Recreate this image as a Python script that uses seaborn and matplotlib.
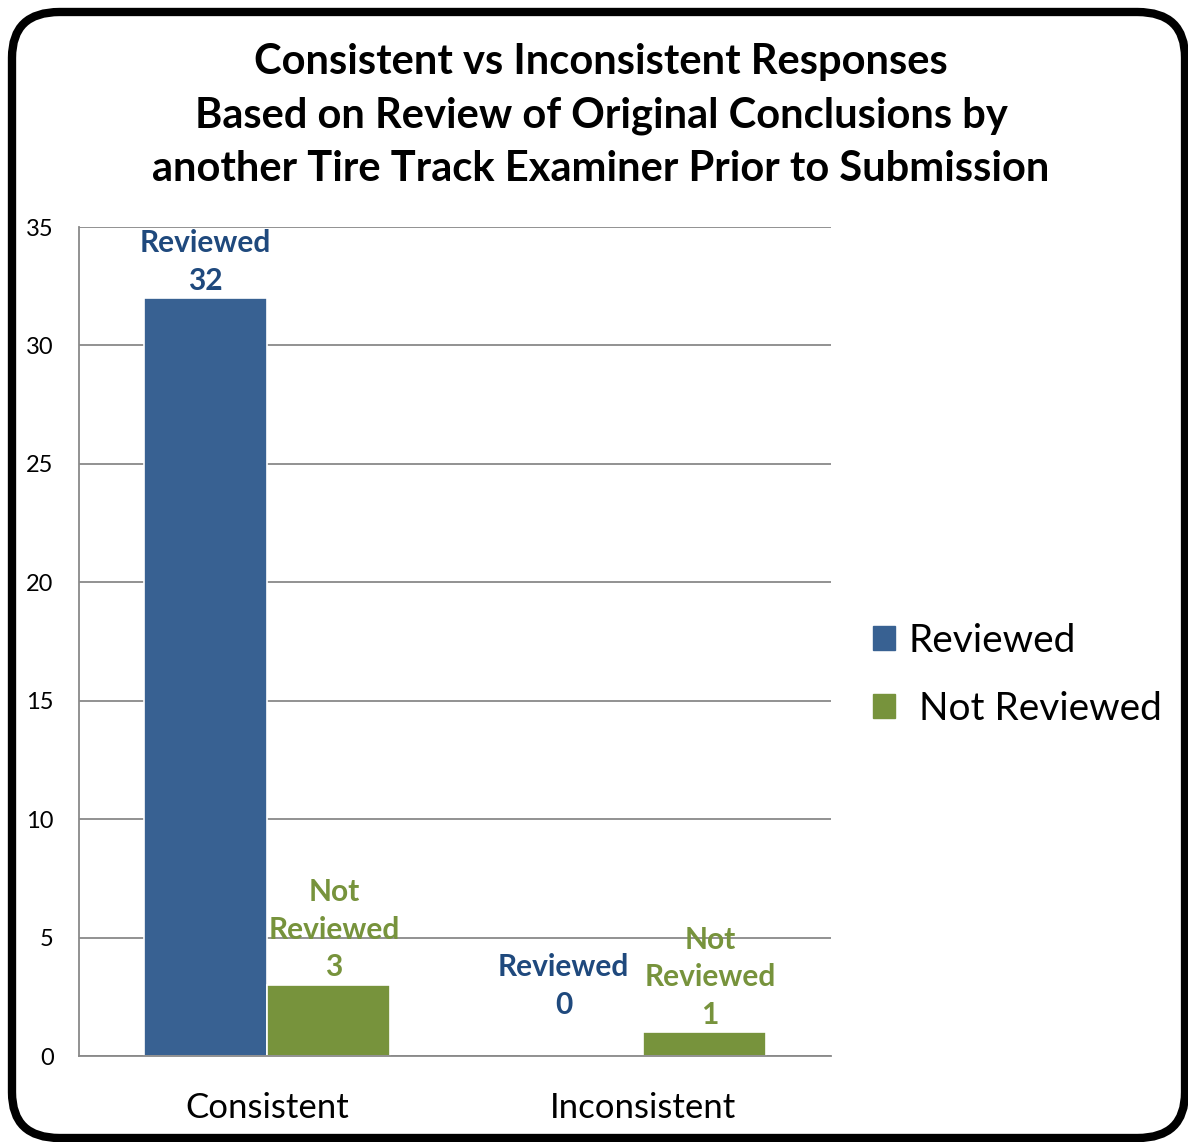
import matplotlib as mpl
from matplotlib import pyplot as plt
from matplotlib.patches import FancyBboxPatch
import seaborn as sns
import pandas as pd

categories = ["Consistent", "Inconsistent"]
groups = ["Reviewed", "Not Reviewed"]
reviewed = [32, 0]
not_reviewed = [3, 1]

df = pd.DataFrame({
    "Response": categories * 2,
    "Group": [groups[0]] * 2 + [groups[1]] * 2,
    "Count": reviewed + not_reviewed,
})

sns.set_style("white")
plt.rcParams["font.family"] = ["Lato", "DejaVu Sans"]
plt.rcParams["text.color"] = "black"
plt.rcParams["xtick.color"] = "black"
plt.rcParams["ytick.color"] = "black"

bar_colors = {"Reviewed": "#386192", "Not Reviewed": "#77933C"}
label_colors = {"Reviewed": "#1F497D", "Not Reviewed": "#77933C"}
grey = "#898989"

fig = plt.figure(figsize=(11.88, 11.42), dpi=100)
ax = fig.add_axes([0.0665, 0.0753, 0.633, 0.7259])

sns.barplot(data=df, x="Response", y="Count", hue="Group", hue_order=groups,
            palette=bar_colors, saturation=1, width=0.655,
            edgecolor="white", linewidth=1.2, ax=ax)

ax.set_xlim(-0.5, 1.5)
ax.set_ylim(0, 35)
ax.set_yticks(range(0, 36, 5))
ax.yaxis.grid(True, color=grey, lw=1.3)
ax.set_axisbelow(True)
ax.set_xlabel("")
ax.set_ylabel("")
for s in ["top", "right"]:
    ax.spines[s].set_visible(False)
for s in ["left", "bottom"]:
    ax.spines[s].set_color(grey)
    ax.spines[s].set_linewidth(1.3)
ax.tick_params(axis="y", length=7.2, width=1.3, color=grey, labelcolor="black",
               labelsize=17, pad=11)
ax.tick_params(axis="x", which="major", length=0, labelsize=25, pad=26,
               labelcolor="black")
ax.set_xticks([-0.5, 0.5, 1.5], minor=True)
ax.tick_params(axis="x", which="minor", length=7.2, width=1.3, color=grey)

# data labels: zero bar label sits higher and a little left, like the original
for cont, grp in zip(ax.containers, groups):
    for bar in cont:
        v = bar.get_height()
        if v > 0:
            dx, dy = (4 if grp == "Not Reviewed" else 0), 2.5
        else:
            dx, dy = -13, 27
        ax.annotate(grp.replace(" ", "\n") + "\n" + str(int(v)),
                    (bar.get_x() + bar.get_width() / 2, v),
                    xytext=(dx, dy), textcoords="offset points",
                    ha="center", va="bottom", fontsize=21.5, fontweight="bold",
                    color=label_colors[grp], linespacing=1.42)

ax.get_legend().remove()
handles = [mpl.patches.Patch(color=bar_colors[g]) for g in groups]
fig.legend(handles, ["Reviewed", " Not Reviewed"], loc="center left",
           bbox_to_anchor=(0.735, 0.409), frameon=False, fontsize=28,
           handlelength=0.56, handleheight=0.56, handletextpad=0.35,
           labelspacing=0.82, borderpad=0, borderaxespad=0)

fig.text(0.506, 0.899,
         "Consistent vs Inconsistent Responses\n"
         "Based on Review of Original Conclusions by\n"
         "another Tire Track Examiner Prior to Submission",
         ha="center", va="center", fontsize=30, fontweight="bold",
         linespacing=1.5, color="black")

frame = FancyBboxPatch((0.0101, 0.0035), 0.9874, 0.986,
                       boxstyle="round,pad=0,rounding_size=0.04",
                       transform=fig.transFigure, fill=False,
                       ec="black", lw=6, clip_on=False)
fig.add_artist(frame)

fig.savefig("out.png", dpi=100)
